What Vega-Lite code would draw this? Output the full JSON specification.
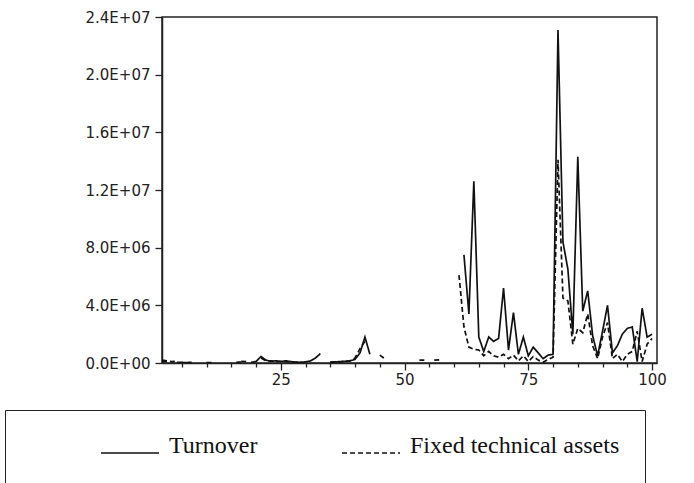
{
  "$schema": "https://vega.github.io/schema/vega-lite/v6.json",
  "autosize": {"type": "none"},
  "width": 495,
  "height": 346,
  "padding": {"left": 162, "top": 17, "right": 37, "bottom": 120},
  "background": "white",
  "config": {
    "view": {"stroke": "#222", "strokeWidth": 1.5},
    "axis": {"domainColor": "#222", "domainWidth": 1.5, "tickColor": "#222", "tickWidth": 1.3, "grid": false,
             "labelFont": "DejaVu Sans", "labelFontSize": 15, "labelColor": "#222"}
  },
  "data": {"values": [
    {"t":1,"Turnover":120000,"Fixed technical assets":200000},
    {"t":2,"Turnover":100000,"Fixed technical assets":150000},
    {"t":3,"Turnover":null,"Fixed technical assets":100000},
    {"t":4,"Turnover":50000,"Fixed technical assets":120000},
    {"t":5,"Turnover":40000,"Fixed technical assets":null},
    {"t":6,"Turnover":30000,"Fixed technical assets":null},
    {"t":7,"Turnover":50000,"Fixed technical assets":null},
    {"t":8,"Turnover":null,"Fixed technical assets":null},
    {"t":9,"Turnover":null,"Fixed technical assets":null},
    {"t":10,"Turnover":40000,"Fixed technical assets":null},
    {"t":11,"Turnover":20000,"Fixed technical assets":null},
    {"t":12,"Turnover":null,"Fixed technical assets":null},
    {"t":13,"Turnover":null,"Fixed technical assets":null},
    {"t":14,"Turnover":null,"Fixed technical assets":null},
    {"t":15,"Turnover":null,"Fixed technical assets":null},
    {"t":16,"Turnover":50000,"Fixed technical assets":null},
    {"t":17,"Turnover":60000,"Fixed technical assets":120000},
    {"t":18,"Turnover":null,"Fixed technical assets":100000},
    {"t":19,"Turnover":50000,"Fixed technical assets":null},
    {"t":20,"Turnover":100000,"Fixed technical assets":null},
    {"t":21,"Turnover":450000,"Fixed technical assets":350000},
    {"t":22,"Turnover":200000,"Fixed technical assets":150000},
    {"t":23,"Turnover":120000,"Fixed technical assets":150000},
    {"t":24,"Turnover":150000,"Fixed technical assets":100000},
    {"t":25,"Turnover":100000,"Fixed technical assets":120000},
    {"t":26,"Turnover":150000,"Fixed technical assets":100000},
    {"t":27,"Turnover":100000,"Fixed technical assets":80000},
    {"t":28,"Turnover":60000,"Fixed technical assets":50000},
    {"t":29,"Turnover":50000,"Fixed technical assets":80000},
    {"t":30,"Turnover":80000,"Fixed technical assets":null},
    {"t":31,"Turnover":150000,"Fixed technical assets":null},
    {"t":32,"Turnover":350000,"Fixed technical assets":null},
    {"t":33,"Turnover":650000,"Fixed technical assets":null},
    {"t":34,"Turnover":null,"Fixed technical assets":null},
    {"t":35,"Turnover":50000,"Fixed technical assets":80000},
    {"t":36,"Turnover":80000,"Fixed technical assets":50000},
    {"t":37,"Turnover":100000,"Fixed technical assets":80000},
    {"t":38,"Turnover":120000,"Fixed technical assets":100000},
    {"t":39,"Turnover":150000,"Fixed technical assets":150000},
    {"t":40,"Turnover":250000,"Fixed technical assets":350000},
    {"t":41,"Turnover":700000,"Fixed technical assets":1000000},
    {"t":42,"Turnover":1800000,"Fixed technical assets":1500000},
    {"t":43,"Turnover":600000,"Fixed technical assets":null},
    {"t":44,"Turnover":null,"Fixed technical assets":null},
    {"t":45,"Turnover":null,"Fixed technical assets":550000},
    {"t":46,"Turnover":null,"Fixed technical assets":300000},
    {"t":47,"Turnover":null,"Fixed technical assets":null},
    {"t":48,"Turnover":null,"Fixed technical assets":null},
    {"t":49,"Turnover":null,"Fixed technical assets":null},
    {"t":50,"Turnover":null,"Fixed technical assets":null},
    {"t":51,"Turnover":null,"Fixed technical assets":null},
    {"t":52,"Turnover":null,"Fixed technical assets":null},
    {"t":53,"Turnover":null,"Fixed technical assets":200000},
    {"t":54,"Turnover":null,"Fixed technical assets":200000},
    {"t":55,"Turnover":null,"Fixed technical assets":null},
    {"t":56,"Turnover":null,"Fixed technical assets":200000},
    {"t":57,"Turnover":null,"Fixed technical assets":220000},
    {"t":58,"Turnover":null,"Fixed technical assets":null},
    {"t":59,"Turnover":null,"Fixed technical assets":null},
    {"t":60,"Turnover":null,"Fixed technical assets":null},
    {"t":61,"Turnover":null,"Fixed technical assets":6100000},
    {"t":62,"Turnover":7500000,"Fixed technical assets":2500000},
    {"t":63,"Turnover":3400000,"Fixed technical assets":1100000},
    {"t":64,"Turnover":12600000,"Fixed technical assets":950000},
    {"t":65,"Turnover":1800000,"Fixed technical assets":900000},
    {"t":66,"Turnover":800000,"Fixed technical assets":500000},
    {"t":67,"Turnover":1800000,"Fixed technical assets":800000},
    {"t":68,"Turnover":1500000,"Fixed technical assets":500000},
    {"t":69,"Turnover":1700000,"Fixed technical assets":400000},
    {"t":70,"Turnover":5200000,"Fixed technical assets":600000},
    {"t":71,"Turnover":900000,"Fixed technical assets":300000},
    {"t":72,"Turnover":3500000,"Fixed technical assets":550000},
    {"t":73,"Turnover":600000,"Fixed technical assets":150000},
    {"t":74,"Turnover":1800000,"Fixed technical assets":500000},
    {"t":75,"Turnover":500000,"Fixed technical assets":100000},
    {"t":76,"Turnover":1100000,"Fixed technical assets":450000},
    {"t":77,"Turnover":700000,"Fixed technical assets":200000},
    {"t":78,"Turnover":300000,"Fixed technical assets":50000},
    {"t":79,"Turnover":550000,"Fixed technical assets":250000},
    {"t":80,"Turnover":600000,"Fixed technical assets":400000},
    {"t":81,"Turnover":23100000,"Fixed technical assets":14100000},
    {"t":82,"Turnover":8400000,"Fixed technical assets":4500000},
    {"t":83,"Turnover":6500000,"Fixed technical assets":4300000},
    {"t":84,"Turnover":2000000,"Fixed technical assets":1300000},
    {"t":85,"Turnover":14300000,"Fixed technical assets":2400000},
    {"t":86,"Turnover":3600000,"Fixed technical assets":2100000},
    {"t":87,"Turnover":5000000,"Fixed technical assets":3400000},
    {"t":88,"Turnover":1900000,"Fixed technical assets":1200000},
    {"t":89,"Turnover":500000,"Fixed technical assets":300000},
    {"t":90,"Turnover":2200000,"Fixed technical assets":1800000},
    {"t":91,"Turnover":4000000,"Fixed technical assets":2800000},
    {"t":92,"Turnover":700000,"Fixed technical assets":300000},
    {"t":93,"Turnover":1200000,"Fixed technical assets":600000},
    {"t":94,"Turnover":2000000,"Fixed technical assets":100000},
    {"t":95,"Turnover":2400000,"Fixed technical assets":600000},
    {"t":96,"Turnover":2500000,"Fixed technical assets":800000},
    {"t":97,"Turnover":100000,"Fixed technical assets":2200000},
    {"t":98,"Turnover":3800000,"Fixed technical assets":100000},
    {"t":99,"Turnover":1800000,"Fixed technical assets":1300000},
    {"t":100,"Turnover":2000000,"Fixed technical assets":1700000}
  ]},
  "transform": [
    {"fold": ["Turnover", "Fixed technical assets"], "as": ["series", "value"]}
  ],
  "mark": {"type": "line", "color": "#111", "strokeWidth": 1.7, "invalid": "break-paths-filter-domains", "clip": true},
  "encoding": {
    "x": {
      "field": "t", "type": "quantitative",
      "scale": {"domain": [1, 101], "nice": false, "zero": false},
      "axis": {
        "title": null,
        "values": [5,10,15,20,25,30,35,40,45,50,55,60,65,70,75,80,85,90,95,100],
        "labelExpr": "datum.value % 25 == 0 ? datum.label : ''",
        "tickSize": {"condition": {"test": "datum.value % 25 == 0", "value": 7}, "value": 4},
        "labelPadding": 2,
        "labelFlush": false,
        "labelOverlap": false
      }
    },
    "y": {
      "field": "value", "type": "quantitative",
      "scale": {"domain": [0, 24000000], "nice": false, "zero": true},
      "axis": {
        "title": null,
        "values": [0, 4000000, 8000000, 12000000, 16000000, 20000000, 24000000],
        "tickSize": 7,
        "labelPadding": 5,
        "labelFlush": false,
        "labelOverlap": false,
        "labelExpr": "datum.value == 0 ? '0.0E+00' : format(datum.value / pow(10, floor(log(datum.value) / LN10 + 1e-9)), '.1f') + 'E+' + (floor(log(datum.value) / LN10 + 1e-9) < 10 ? '0' : '') + floor(log(datum.value) / LN10 + 1e-9)"
      }
    },
    "strokeDash": {
      "field": "series", "type": "nominal",
      "scale": {"domain": ["Turnover", "Fixed technical assets"], "range": [[1, 0], [5, 3]]},
      "legend": {
        "orient": "none", "legendX": -157, "legendY": 393,
        "direction": "horizontal", "columns": 2, "title": null,
        "strokeColor": "#222", "fillColor": "white", "padding": 25,
        "symbolType": "stroke", "symbolSize": 3364, "symbolStrokeWidth": 1.7,
        "symbolStrokeColor": "#111", "symbolOffset": 70,
        "labelOffset": 9, "labelFont": "Liberation Serif", "labelFontSize": 24, "labelColor": "#111",
        "labelBaseline": "alphabetic", "clipHeight": 36,
        "labelLimit": 400, "columnPadding": 13
      }
    }
  }
}
